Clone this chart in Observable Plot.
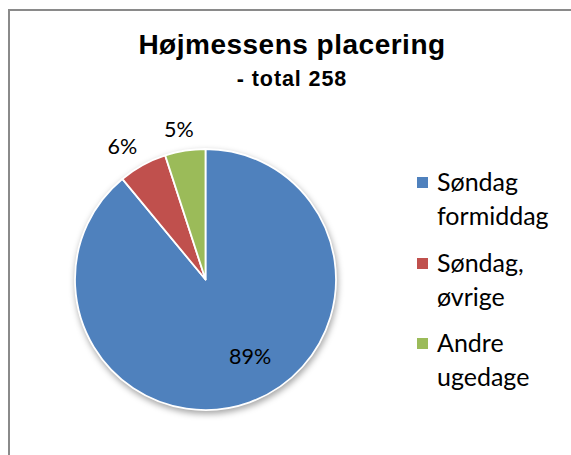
<!DOCTYPE html>
<html>
<head>
<meta charset="utf-8">
<script src="https://cdn.jsdelivr.net/npm/d3@7"></script>
<script src="https://cdn.jsdelivr.net/npm/@observablehq/plot@0.6"></script>
<style>
  body { margin: 0; background: #fff; }
  #wrap { position: relative; width: 571px; height: 455px; overflow: hidden; background: #fff; }
  #frame { position: absolute; left: 8px; top: 9px; width: 700px; height: 600px; border: 2px solid #8a8a8a; box-sizing: border-box; }
  #chart { position: absolute; left: 0; top: 0; }
  .title { position: absolute; left: 0; width: 584px; text-align: center; font-family: "Liberation Sans", Arial, sans-serif; font-weight: bold; color: #000; white-space: nowrap; }
  #t1 { top: 29px; font-size: 28px; letter-spacing: 0.5px; }
  #t2 { top: 67px; font-size: 21.5px; letter-spacing: 0.9px; }
  .leg { position: absolute; left: 417px; font-family: Lato, "Open Sans", sans-serif; font-size: 25px; line-height: 34px; color: #000; }
  .leg .sw { position: absolute; left: 0; top: 11px; width: 11px; height: 11px; }
  .leg .tx { position: absolute; left: 20px; top: -2px; white-space: nowrap; }
</style>
</head>
<body>
<div id="wrap">
  <div id="frame"></div>
  <div id="chart"></div>
  <div class="title" id="t1"></div>
  <div class="title" id="t2"></div>
</div>
<script>
const titleText = "Højmessens placering";
const subtitleText = "- total 258";
const categories = ["Søndag formiddag", "Søndag, øvrige", "Andre ugedage"];
const legendLines = [["Søndag", "formiddag"], ["Søndag,", "øvrige"], ["Andre", "ugedage"]];
const percents = [89, 6, 5];
const colors = ["#4F81BD", "#C0504D", "#9BBB59"];

document.getElementById("t1").textContent = titleText;
document.getElementById("t2").textContent = subtitleText;

const arcs = d3.pie().sort(null).value(d => d)(percents);
const slices = arcs.map((a, i) => ({
  category: categories[i],
  value: percents[i],
  label: percents[i] + "%",
  start: a.startAngle,
  end: a.endAngle,
  mid: (a.startAngle + a.endAngle) / 2,
  inside: a.endAngle - a.startAngle > Math.PI
}));

function pieMark(index, scales) {
  const cx = scales.x(0), cy = scales.y(0);
  const r = scales.x(1) - scales.x(0);
  const g = d3.create("svg:g");
  const defs = g.append("defs");
  const f = defs.append("filter").attr("id", "pieShadow").attr("x", "-20%").attr("y", "-20%").attr("width", "140%").attr("height", "140%");
  f.append("feGaussianBlur").attr("stdDeviation", 3);
  g.append("circle").attr("cx", cx + 1).attr("cy", cy + 3).attr("r", r + 1)
    .attr("fill", "#000").attr("fill-opacity", 0.35).attr("filter", "url(#pieShadow)");
  const arc = d3.arc().innerRadius(0).outerRadius(r);
  g.append("g").attr("transform", `translate(${cx},${cy})`)
    .selectAll("path").data(slices).join("path")
    .attr("d", d => arc({startAngle: d.start, endAngle: d.end}))
    .attr("fill", (d, i) => colors[i])
    .attr("stroke", "#fff").attr("stroke-width", 1.8).attr("stroke-linejoin", "round");
  return g.node();
}

const insideR = 0.68, outsideRx = 1.33, outsideRy = 1.16;
const plot = Plot.plot({
  width: 571,
  height: 455,
  margin: 0,
  x: {domain: [-1, 1], range: [75, 336], axis: null},
  y: {domain: [-1, 1], range: [410, 149], axis: null},
  marks: [
    pieMark,
    Plot.text(slices.filter(d => d.inside), {
      x: d => insideR * Math.sin(d.mid), y: d => insideR * Math.cos(d.mid),
      text: "label", fontSize: 21.5, fontFamily: "Lato", fill: "#000", dx: 14, dy: -6
    }),
    Plot.text(slices.filter(d => !d.inside), {
      x: d => outsideRx * Math.sin(d.mid), y: d => outsideRy * Math.cos(d.mid),
      text: "label", fontSize: 21.5, fontFamily: "Lato", fill: "#000"
    })
  ]
});
plot.style.background = "transparent";
document.getElementById("chart").appendChild(plot);

const legTops = [166, 247, 327];
const wrap = document.getElementById("wrap");
legendLines.forEach((lines, i) => {
  const item = document.createElement("div");
  item.className = "leg";
  item.style.top = legTops[i] + "px";
  const sw = document.createElement("div");
  sw.className = "sw";
  sw.style.background = colors[i];
  const tx = document.createElement("div");
  tx.className = "tx";
  tx.innerHTML = lines.join("<br>");
  item.appendChild(sw);
  item.appendChild(tx);
  wrap.appendChild(item);
});
</script>
</body>
</html>
